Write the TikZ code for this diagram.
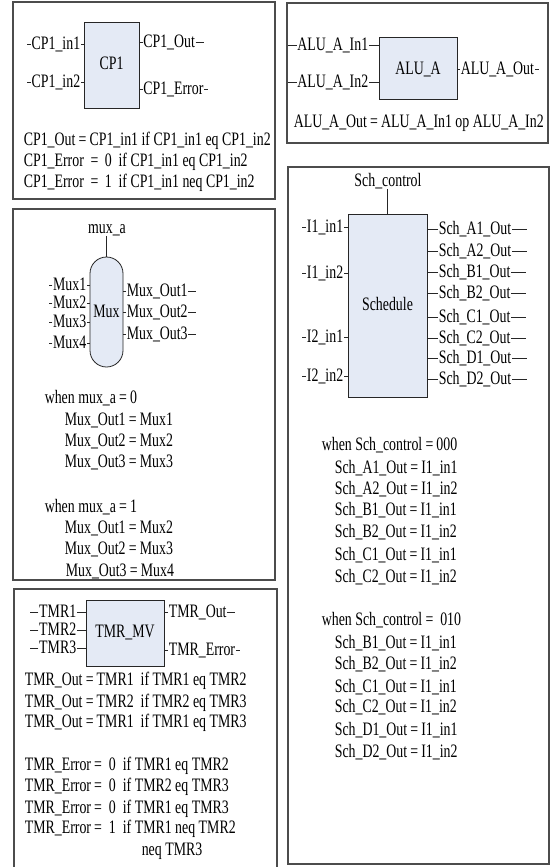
\documentclass[tikz,border=0pt]{standalone}
\usepackage{fontspec}
\setmainfont{Liberation Serif}[FakeStretch=0.73]
\definecolor{boxfill}{RGB}{228,234,245}
\begin{document}
\begin{tikzpicture}[x=1pt,y=-1pt,font=\fontsize{19}{22}\selectfont]
\tikzset{
  frame/.style={draw=black!70,line width=1.1pt},
  blk/.style={draw=black!85,line width=0.8pt,fill=boxfill,inner sep=0pt},
  txt/.style={inner xsep=0.6pt,inner ysep=0pt,text height=13pt,text depth=2.5pt},
  eqn/.style={txt,anchor=west},
  wire/.style={draw=black!85,line width=0.7pt},
}
\fill[white] (0,0) rectangle (551,867);
\useasboundingbox (0,0) rectangle (551,867);

% ---------------- CP1 ----------------
\draw[frame] (13,2) rectangle (275,199);
\node[blk,minimum width=55pt,minimum height=86pt] (cp1) at (111.5,65) {};
\node[txt] (cp1l) at (111.5,64) {CP1};
\node[txt,anchor=east] (ci1) at (81,44) {CP1\_in1};
\node[txt,anchor=east] (ci2) at (81,82) {CP1\_in2};
\node[txt,anchor=west] (co1) at (142.5,42) {CP1\_Out};
\node[txt,anchor=west] (co2) at (142.5,89) {CP1\_Error};
\draw[wire] (ci1.west) -- ++(-4,0);
\draw[wire] (ci1.east) -- (ci1.east -| cp1.west);
\draw[wire] (ci2.west) -- ++(-4,0);
\draw[wire] (ci2.east) -- (ci2.east -| cp1.west);
\draw[wire] (co1.west) -- (co1.west -| cp1.east);
\draw[wire] (co1.east) -- ++(8,0);
\draw[wire] (co2.west) -- (co2.west -| cp1.east);
\draw[wire] (co2.east) -- ++(4,0);
\node[eqn] (ce1) at (23,140) {CP1\_Out\,=\,CP1\_in1 if CP1\_in1 eq CP1\_in2};
\node[eqn] (ce2) at (23,161) {CP1\_Error \,=\, 0 \,if CP1\_in1 eq CP1\_in2};
\node[eqn] (ce3) at (23,182) {CP1\_Error \,=\, 1 \,if CP1\_in1 neq CP1\_in2};

% ---------------- ALU_A ----------------
\draw[frame] (287,3) rectangle (548,143);
\coordinate (aluW) at (288,3);
\node[blk,minimum width=78pt,minimum height=62pt] (alu) at (418,68) {};
\node[txt] (alul) at (418,69) {ALU\_A};
\node[txt,anchor=east] (ai1) at (369,45) {ALU\_A\_In1};
\node[txt,anchor=east] (ai2) at (369,82) {ALU\_A\_In2};
\node[txt,anchor=west] (ao1) at (460,69) {ALU\_A\_Out};
\draw[wire] (ai1.west) -- (ai1.west -| aluW);
\draw[wire] (ai1.east) -- (ai1.east -| alu.west);
\draw[wire] (ai2.west) -- (ai2.west -| aluW);
\draw[wire] (ai2.east) -- (ai2.east -| alu.west);
\draw[wire] (ao1.west) -- (ao1.west -| alu.east);
\draw[wire] (ao1.east) -- ++(4,0);
\node[eqn] (ae1) at (293,122) {ALU\_A\_Out\,=\,ALU\_A\_In1 op ALU\_A\_In2};

% ---------------- Mux ----------------
\draw[frame] (13,209) rectangle (275,580);
\node[blk,rounded corners=16.5pt,minimum width=33pt,minimum height=110pt] (mux) at (106.5,312) {};
\node[txt] (muxl) at (106.5,312) {Mux};
\node[txt] (muxa) at (107,228) {mux\_a};
\draw[wire] (muxa.south -| mux.north) -- (mux.north);
\node[txt,anchor=east] (mi1) at (87,285) {Mux1};
\node[txt,anchor=east] (mi2) at (87,303) {Mux2};
\node[txt,anchor=east] (mi3) at (87,322) {Mux3};
\node[txt,anchor=east] (mi4) at (87,343) {Mux4};
\foreach \n in {mi1,mi2,mi3,mi4}{
  \draw[wire] (\n.west) -- ++(-3,0);
  \draw[wire] (\n.east) -- (\n.east -| mux.west);
}
\node[txt,anchor=west] (mo1) at (126,291) {Mux\_Out1};
\node[txt,anchor=west] (mo2) at (126,312) {Mux\_Out2};
\node[txt,anchor=west] (mo3) at (126,334) {Mux\_Out3};
\foreach \n in {mo1,mo2,mo3}{
  \draw[wire] (\n.west) -- (\n.west -| mux.east);
  \draw[wire] (\n.east) -- ++(8,0);
}
\node[eqn] (me0) at (44,398) {when mux\_a\,=\,0};
\node[eqn] (me1) at (64,420) {Mux\_Out1\,=\,Mux1};
\node[eqn] (me2) at (64,441) {Mux\_Out2\,=\,Mux2};
\node[eqn] (me3) at (64,462) {Mux\_Out3\,=\,Mux3};
\node[eqn] (me4) at (44,507) {when mux\_a\,=\,1};
\node[eqn] (me5) at (64,528) {Mux\_Out1\,=\,Mux2};
\node[eqn] (me6) at (64,549) {Mux\_Out2\,=\,Mux3};
\node[eqn] (me7) at (65,571) {Mux\_Out3\,=\,Mux4};

% ---------------- TMR_MV ----------------
\draw[frame] (14,867) -- (14,589) -- (277,589) -- (277,867);
\node[blk,minimum width=78pt,minimum height=66pt] (tmr) at (125,633) {};
\node[txt] (tmrl) at (125,632) {TMR\_MV};
\node[txt,anchor=east] (ti1) at (77,612) {TMR1};
\node[txt,anchor=east] (ti2) at (77,630) {TMR2};
\node[txt,anchor=east] (ti3) at (77,648) {TMR3};
\foreach \n in {ti1,ti2,ti3}{
  \draw[wire] (\n.west) -- ++(-8,0);
  \draw[wire] (\n.east) -- (\n.east -| tmr.west);
}
\node[txt,anchor=west] (to1) at (168,612) {TMR\_Out};
\node[txt,anchor=west] (to2) at (168,650) {TMR\_Error};
\draw[wire] (to1.west) -- (to1.west -| tmr.east);
\draw[wire] (to1.east) -- ++(8,0);
\draw[wire] (to2.west) -- (to2.west -| tmr.east);
\draw[wire] (to2.east) -- ++(4,0);
\node[eqn] (te1) at (24,680) {TMR\_Out\,=\,TMR1 \ if TMR1 eq TMR2};
\node[eqn] (te2) at (24,702) {TMR\_Out\,=\,TMR2 \ if TMR2 eq TMR3};
\node[eqn] (te3) at (24,722) {TMR\_Out\,=\,TMR1 \ if TMR1 eq TMR3};
\node[eqn] (te4) at (24,765) {TMR\_Error\,= \ 0 \ if TMR1 eq TMR2};
\node[eqn] (te5) at (24,786) {TMR\_Error\,= \ 0 \ if TMR2 eq TMR3};
\node[eqn] (te6) at (24,808) {TMR\_Error\,= \ 0 \ if TMR1 eq TMR3};
\node[eqn] (te7) at (24,828) {TMR\_Error\,= \ 1 \ if TMR1 neq TMR2};
\node[eqn] (te8) at (141,850) {neq TMR3};

% ---------------- Schedule ----------------
\draw[frame] (288,167) rectangle (549,864);
\node[blk,minimum width=79pt,minimum height=183pt] (sch) at (387.5,305.5) {};
\node[txt] (schl) at (387.5,305) {Schedule};
\node[txt] (schc) at (388,181) {Sch\_control};
\draw[wire] (schc.south -| sch.north) -- (sch.north);
\node[txt,anchor=east] (si1) at (344,227) {I1\_in1};
\node[txt,anchor=east] (si2) at (344,273) {I1\_in2};
\node[txt,anchor=east] (si3) at (344,337) {I2\_in1};
\node[txt,anchor=east] (si4) at (344,376) {I2\_in2};
\foreach \n in {si1,si2,si3,si4}{
  \draw[wire] (\n.west) -- ++(-4,0);
  \draw[wire] (\n.east) -- (\n.east -| sch.west);
}
\node[txt,anchor=west] (so1) at (438,229) {Sch\_A1\_Out};
\node[txt,anchor=west] (so2) at (438,251) {Sch\_A2\_Out};
\node[txt,anchor=west] (so3) at (438,272) {Sch\_B1\_Out};
\node[txt,anchor=west] (so4) at (438,293) {Sch\_B2\_Out};
\node[txt,anchor=west] (so5) at (438,317) {Sch\_C1\_Out};
\node[txt,anchor=west] (so6) at (438,338) {Sch\_C2\_Out};
\node[txt,anchor=west] (so7) at (438,358) {Sch\_D1\_Out};
\node[txt,anchor=west] (so8) at (438,379) {Sch\_D2\_Out};
\foreach \n in {so1,so2,so3,so4,so5,so6,so7,so8}{
  \draw[wire] (\n.west) -- (\n.west -| sch.east);
  \draw[wire] (\n.east) -- ++(15,0);
}
\node[eqn] (se0) at (321,445) {when Sch\_control\,=\,000};
\node[eqn] (se1) at (334,468) {Sch\_A1\_Out\,=\,I1\_in1};
\node[eqn] (se2) at (334,489) {Sch\_A2\_Out\,=\,I1\_in2};
\node[eqn] (se3) at (334,510) {Sch\_B1\_Out\,=\,I1\_in1};
\node[eqn] (se4) at (334,532) {Sch\_B2\_Out\,=\,I1\_in2};
\node[eqn] (se5) at (334,555) {Sch\_C1\_Out\,=\,I1\_in1};
\node[eqn] (se6) at (334,577) {Sch\_C2\_Out\,=\,I1\_in2};
\node[eqn] (sf0) at (321,620) {when Sch\_control\,= \ 010};
\node[eqn] (sf1) at (334,643) {Sch\_B1\_Out\,=\,I1\_in1};
\node[eqn] (sf2) at (334,664) {Sch\_B2\_Out\,=\,I1\_in2};
\node[eqn] (sf3) at (334,687) {Sch\_C1\_Out\,=\,I1\_in1};
\node[eqn] (sf4) at (334,707) {Sch\_C2\_Out\,=\,I1\_in2};
\node[eqn] (sf5) at (334,730) {Sch\_D1\_Out\,=\,I1\_in1};
\node[eqn] (sf6) at (334,752) {Sch\_D2\_Out\,=\,I1\_in2};
\end{tikzpicture}
\end{document}
